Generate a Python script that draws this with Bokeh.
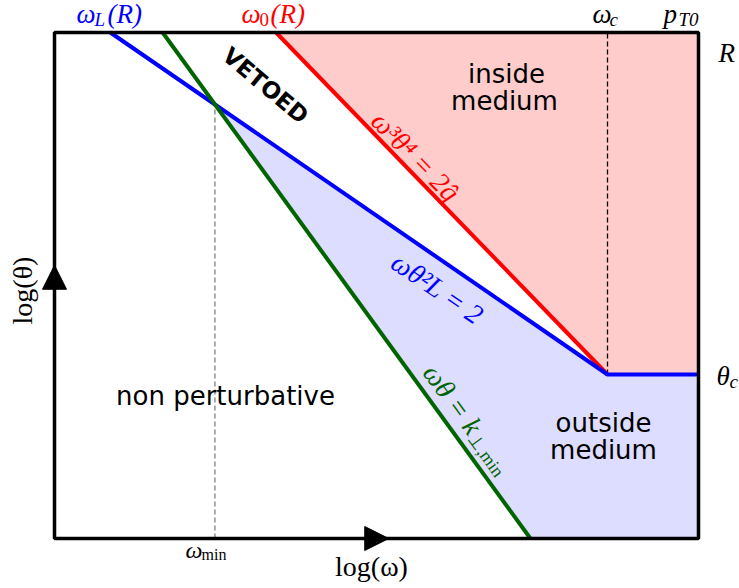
import math
from bokeh.plotting import figure
from bokeh.models import Range1d, Label, Arrow, NormalHead
from bokeh.embed import file_html
from bokeh.resources import INLINE

# ---------------- data (schematic, log-space units) ----------------
log_omega_range = [0.0, 10.0]      # log(omega) axis extent
log_theta_range = [0.0, 5.711]     # log(theta) axis extent; top = R
log_omega_c = 8.587                # omega_c
log_theta_c = 1.851                # theta_c
log_R = 5.711                      # theta = R (top edge)
log_kperp_min = 7.39               # omega*theta = k_perp,min  ->  x + y = const
slope_blue = -0.5                  # omega theta^2 L = 2
slope_red = -0.75                  # omega^3 theta^4 = 2 qhat
slope_green = -1.0                 # omega theta = k_perp,min

xmin, xmax = log_omega_range
ymin, ymax = log_theta_range

# derived points of the construction
blue_top_x = log_omega_c + (log_R - log_theta_c) / slope_blue
red_top_x = log_omega_c + (log_R - log_theta_c) / slope_red
green_top_x = (log_R - log_kperp_min) / slope_green
green_bot_x = (ymin - log_kperp_min) / slope_green
x_int = (log_kperp_min - log_theta_c + slope_blue * log_omega_c) / (1 + slope_blue)
y_int = log_kperp_min + slope_green * x_int

# page-pixel <-> data mapping (frame box from px 54..698, 32..538)
W, H = 739, 588
PXX = 644 / (xmax - xmin)
PXY = 506 / (ymax - ymin)


def lx(px):
    return xmin + (px - 54) / PXX


def ly(py):
    return ymin + (538 - py) / PXY


p = figure(width=W, height=H, x_range=Range1d(lx(0), lx(W)), y_range=Range1d(ly(H), ly(0)),
           output_backend="svg", toolbar_location=None,
           x_axis_location=None, y_axis_location=None,
           min_border=0, min_border_left=0, min_border_right=0,
           min_border_top=0, min_border_bottom=0)
p.grid.visible = False
p.outline_line_color = None
p.background_fill_color = "white"
p.border_fill_color = "white"

# regions
p.patch([red_top_x, log_omega_c, xmax, xmax], [log_R, log_theta_c, log_theta_c, log_R],
        fill_color="#ffcccc", line_color=None)
p.patch([x_int, log_omega_c, xmax, xmax, green_bot_x],
        [y_int, log_theta_c, log_theta_c, ymin, ymin],
        fill_color="#ddddff", line_color=None)

# dashed guides
p.line([log_omega_c, log_omega_c], [log_theta_c, log_R], line_color="black",
       line_width=1.3, line_dash="5 3")
p.line([x_int, x_int], [ymin, y_int], line_color="#808080", line_width=1.3, line_dash="5 3")

# main lines
p.line([red_top_x, log_omega_c], [log_R, log_theta_c], line_color="#ff0000", line_width=4)
p.line([blue_top_x, log_omega_c, xmax], [log_R, log_theta_c, log_theta_c],
       line_color="#0000ff", line_width=4)
p.line([green_top_x, green_bot_x], [log_R, ymin], line_color="#006400", line_width=4)

# frame box
p.quad(left=[xmin], right=[xmax], bottom=[ymin], top=[ymax], fill_color=None,
       line_color="black", line_width=3.5)

# axis arrows
p.add_layout(Arrow(end=NormalHead(size=24, fill_color="black", line_color="black"),
                   x_start=xmin, y_start=ymin, x_end=xmin + 0.519 * (xmax - xmin), y_end=ymin,
                   line_alpha=0))
p.add_layout(Arrow(end=NormalHead(size=24, fill_color="black", line_color="black"),
                   x_start=xmin, y_start=ymin, x_end=xmin, y_end=ymin + 0.54 * (ymax - ymin),
                   line_alpha=0))

# ---------------- labels ----------------
SERIF = "Liberation Serif"
SANS = "DejaVu Sans"


def lab(text, px, py, size, color="black", style="normal", align="left",
        baseline="middle", angle=0.0, font=SERIF):
    p.add_layout(Label(x=lx(px), y=ly(py), text=text, text_font=font,
                       text_font_size=f"{size}px", text_color=color,
                       text_font_style=style, text_align=align,
                       text_baseline=baseline, angle=math.radians(angle)))


def rot_lab(text, ax, ay, along, down, slope, size, color, style="italic"):
    phi = math.atan(slope)
    px = ax + along * math.cos(phi) - down * math.sin(phi)
    py = ay + along * math.sin(phi) + down * math.cos(phi)
    lab(text, px, py, size, color, style, align="left", baseline="middle",
        angle=-math.degrees(phi))


# top labels
lab("ω", 76, 13, 27, "#0000ff", "italic")
lab("L", 94, 19, 19, "#0000ff", "italic")
lab("(R)", 107, 13, 27, "#0000ff", "italic")
lab("ω", 241, 13, 27, "#ff0000", "italic")
lab("0", 259, 19, 19, "#ff0000")
lab("(R)", 270, 13, 27, "#ff0000", "italic")
lab("ω", 592, 13, 27, "black", "italic")
lab("c", 609, 19, 19, "black", "italic")
lab("p", 663, 13, 27, "black", "italic")
lab("T0", 678, 19, 19, "black", "italic")
# right labels
lab("R", 718, 52, 27, "black", "italic")
lab("θ", 716, 375, 27, "black", "italic")
lab("c", 729, 381, 19, "black", "italic")
# bottom / left labels
lab("ω", 185, 549, 24, "black", "italic")
lab("min", 201, 554, 16, "black")
lab("log(ω)", 371, 566, 28, "black", align="center")
lab("log(θ)", 22, 290, 28, "black", align="center", angle=90)

# region texts
lab("inside", 506, 73, 26, font=SANS, align="center")
lab("medium", 504, 100, 26, font=SANS, align="center")
lab("non perturbative", 225, 395, 26, font=SANS, align="center")
lab("outside", 603, 422, 26, font=SANS, align="center")
lab("medium", 603, 449, 26, font=SANS, align="center")
lab("VETOED", 265, 85, 23, font=SANS, style="bold", align="center", angle=-40)

# line labels
lab("ω³θ⁴ = 2q̂", 415, 156, 28, "#ff0000", "italic", align="center",
    angle=-math.degrees(math.atan(1.027)))
lab("ωθ²L = 2", 437, 288, 28, "#0000ff", "italic", align="center",
    angle=-math.degrees(math.atan(0.684)))
rot_lab("ωθ = k", 429, 367, 0, 0, 1.375, 28, "#006400")
rot_lab("⊥,min", 429, 367, 80, 6, 1.375, 18, "#006400", style="normal")

open("out.html", "w").write(file_html(p, INLINE))
